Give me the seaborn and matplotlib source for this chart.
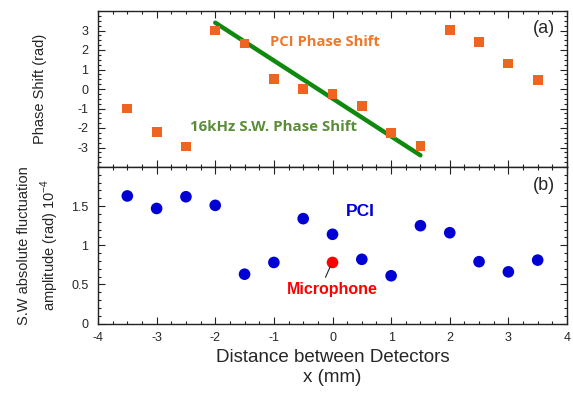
import matplotlib
matplotlib.use("Agg")
import matplotlib.pyplot as plt
import seaborn as sns
import pandas as pd
from matplotlib.ticker import MultipleLocator

# ---- data ----
x_pos = [-3.5, -3.0, -2.5, -2.0, -1.5, -1.0, -0.5, 0.0, 0.5, 1.0, 1.5, 2.0, 2.5, 3.0, 3.5]
phase_pci = [-1.0, -2.2, -2.95, 3.0, 2.33, 0.52, 0.02, -0.25, -0.86, -2.26, -2.94, 3.02, 2.4, 1.31, 0.48]
sw_line_x = [-2.0, 1.5]
sw_line_y = [3.4, -3.4]
amp_pci = [1.63, 1.47, 1.62, 1.51, 0.63, 0.78, 1.34, 1.14, 0.82, 0.61, 1.25, 1.16, 0.79, 0.66, 0.81]
mic_x = [0.0]
mic_y = [0.78]
x_ticks = [-4, -3, -2, -1, 0, 1, 2, 3, 4]

sns.set_style("ticks")
plt.rcParams['font.family'] = ['Liberation Sans', 'DejaVu Sans']
plt.rcParams['axes.unicode_minus'] = False
plt.rcParams['mathtext.fontset'] = 'custom'
plt.rcParams['mathtext.rm'] = 'Liberation Sans'

fig = plt.figure(figsize=(5.73, 3.95), dpi=100)
L, R = 98 / 573, 567 / 573
top, mid, bot = 1 - 11 / 395, 1 - 167 / 395, 1 - 323.5 / 395
ax1 = fig.add_axes([L, mid, R - L, top - mid])
ax2 = fig.add_axes([L, bot, R - L, mid - bot], sharex=ax1)

orange = '#ef6420'
blue = '#0000d4'

df_phase = pd.DataFrame({'x': x_pos, 'y': phase_pci})
df_line = pd.DataFrame({'x': sw_line_x, 'y': sw_line_y})
df_amp = pd.DataFrame({'x': x_pos, 'y': amp_pci})
df_mic = pd.DataFrame({'x': mic_x, 'y': mic_y})

sns.lineplot(data=df_line, x='x', y='y', ax=ax1, color='#0f8a0f', linewidth=3.2, zorder=2)
sns.scatterplot(data=df_phase, x='x', y='y', ax=ax1, marker='s', s=50, color=orange,
                edgecolor='none', zorder=3)

sns.scatterplot(data=df_amp, x='x', y='y', ax=ax2, marker='o', s=70, color=blue,
                edgecolor='none', zorder=3)
sns.scatterplot(data=df_mic, x='x', y='y', ax=ax2, marker='o', s=70, color='#ff0000',
                edgecolor='none', zorder=3)

ax1.set_xlim(-4, 4)
ax1.set_ylim(-4, 4)
ax2.set_ylim(0, 2)
ax1.set_xticks(x_ticks)
ax1.xaxis.set_minor_locator(MultipleLocator(0.25))
ax1.set_yticks([-3, -2, -1, 0, 1, 2, 3])
ax1.yaxis.set_minor_locator(MultipleLocator(0.25))
ax2.set_yticks([0, 0.5, 1, 1.5])
ax2.set_yticklabels(['0', '0.5', '1', '1.5'])
ax2.yaxis.set_minor_locator(MultipleLocator(0.1))
ax2.set_xticklabels([str(t) for t in x_ticks])

for ax in (ax1, ax2):
    ax.tick_params(which='both', direction='in', top=True, right=True, labelsize=9,
                   width=0.8, color='#222222')
    ax.tick_params(which='major', length=5)
    ax.tick_params(which='minor', length=2.5)
    for s in ax.spines.values():
        s.set_linewidth(1.0)
        s.set_color('#222222')
ax1.tick_params(axis='x', labelbottom=False)
ax2.tick_params(axis='x', pad=6)
ax1.tick_params(axis='y', pad=7)
ax2.tick_params(axis='y', pad=7)

ax1.set_xlabel('')
ax1.set_ylabel('Phase Shift (rad)', fontsize=10.5, labelpad=22)
ax2.set_ylabel('S.W absolute fluctuation\namplitude (rad) 10$^{\\mathrm{-4}}$', fontsize=10.5,
               labelpad=7, linespacing=1.5)
ax2.set_xlabel('Distance between Detectors\nx (mm)', fontsize=13.5, labelpad=4,
               linespacing=1.2)

ax1.text(-1.07, 2.43, 'PCI Phase Shift', color='#f07828', fontsize=10.6, fontweight='bold',
         family=['Open Sans', 'DejaVu Sans'], va='center', ha='left')
ax1.text(-2.43, -1.97, '16kHz S.W. Phase Shift', color='#5b8c3a', fontsize=10.8, fontweight='bold',
         family=['Open Sans', 'DejaVu Sans'], va='center', ha='left')
ax1.text(3.8, 3.1, '(a)', fontsize=13, ha='right', va='center')
ax2.text(3.8, 1.76, '(b)', fontsize=13, ha='right', va='center')
ax2.text(0.22, 1.43, 'PCI', color=blue, fontsize=12.5, fontweight='bold', ha='left', va='center')
ax2.text(0, 0.44, 'Microphone', color='#ff0000', fontsize=11.5,
         fontweight='bold', ha='center', va='center')
ax2.annotate('', xy=(-0.04, 0.725), xytext=(-0.12, 0.59),
             arrowprops=dict(arrowstyle='-', color='#222222', lw=0.8, shrinkA=0, shrinkB=0))

fig.savefig('out.png', dpi=100)
